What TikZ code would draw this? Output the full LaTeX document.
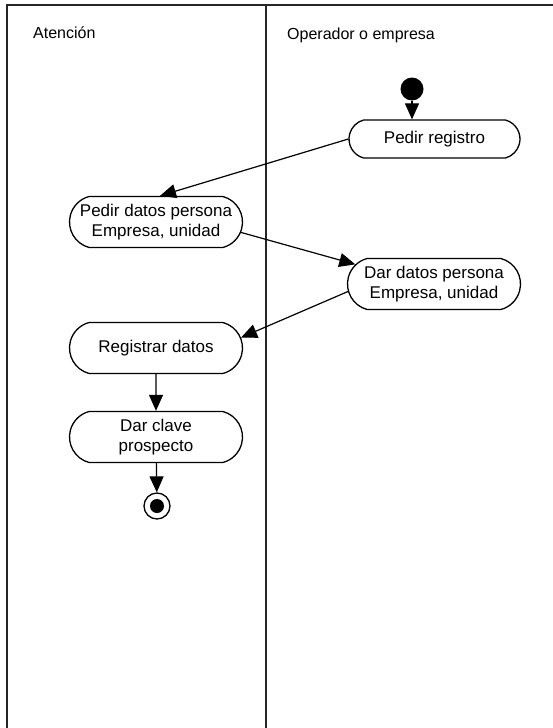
\documentclass[tikz,border=0pt]{standalone}
\usepackage{fontspec}
\setmainfont{Liberation Sans}
\usetikzlibrary{arrows.meta,shapes.misc}
\begin{document}
\begin{tikzpicture}[x=1pt,y=-1pt,
  lane/.style={line width=1.3pt,draw=black!85},
  activity/.style={rounded rectangle,rounded rectangle arc length=150,draw,line width=1.3pt,
    minimum width=177pt,minimum height=51pt,inner sep=2pt,align=center,
    font=\fontsize{17}{19.5}\selectfont},
  flow/.style={line width=1.2pt,-{Triangle[length=16pt,width=14pt]}},
  header/.style={anchor=base west,inner sep=0pt,font=\fontsize{16}{18}\selectfont}]
\useasboundingbox (0,0) rectangle (553,728);

% swimlane frame
\draw[lane] (7,728) -- (7,5) -- (553,5);
\draw[lane] (266,5) -- (266,728);
\node[header] (hA) at (33,38) {Atención};
\node[header] (hB) at (287,39) {Operador o empresa};

% start and end states
\node[circle,fill=black,minimum size=23pt,inner sep=0pt] (start) at (412,89) {};
\node[circle,draw,line width=1.3pt,minimum size=26pt,inner sep=0pt] (stop) at (157,506) {};
\node[circle,fill=black,minimum size=14pt,inner sep=0pt] (stopdot) at (157,506) {};

% activities
\node[activity,minimum width=175pt,minimum height=38pt] (preg) at (434.5,139) {Pedir registro};
\node[activity] (pdat) at (156,222) {Pedir datos persona\\Empresa, unidad};
\node[activity] (ddat) at (434,284) {Dar datos persona\\Empresa, unidad};
\node[activity] (reg) at (156,348) {Registrar datos};
\node[activity] (clave) at (156,437) {Dar clave\\prospecto};

% transitions
\draw[flow] (start) -- (start |- preg.north);
\draw[flow] (preg.west) -- ([xshift=4pt]pdat.north);
\draw[flow] (pdat.-7) -- (ddat.166);
\draw[flow] (ddat.185) -- (reg.7);
\draw[flow] (reg) -- (clave);
\draw[flow] (clave) -- (stop);
\end{tikzpicture}
\end{document}
